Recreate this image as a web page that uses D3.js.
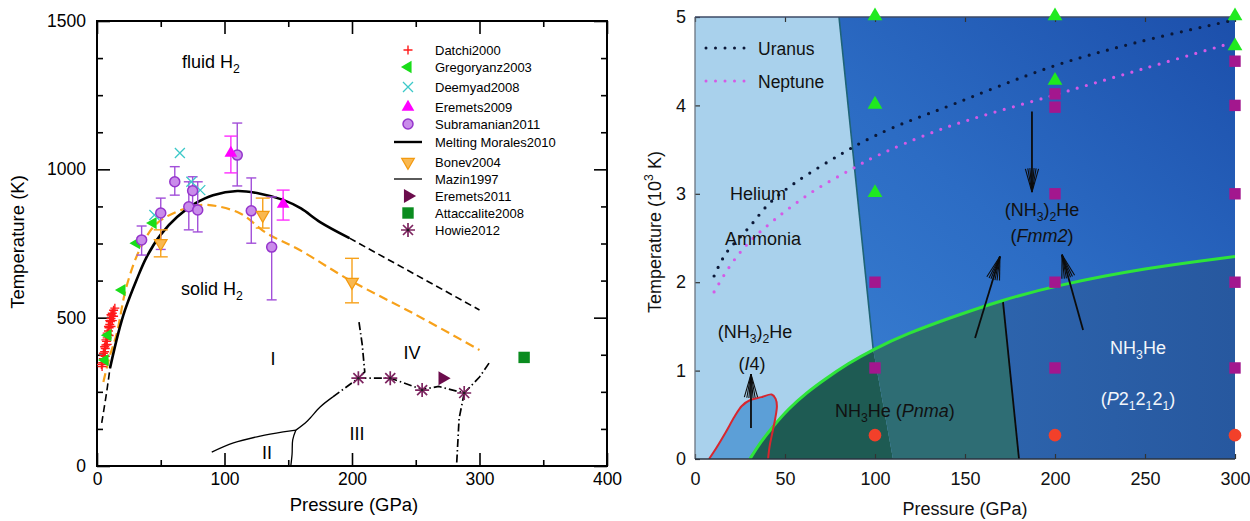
<!DOCTYPE html>
<html><head><meta charset="utf-8">
<script src="https://cdn.jsdelivr.net/npm/d3@7"></script>
<style>body{margin:0;background:#fff;} svg{display:block;font-family:"Liberation Sans",Arial,Helvetica,sans-serif;}</style>
</head><body><svg id="c" width="1250" height="521"></svg>
<script>
// ================= LEFT PANEL DATA (Pressure GPa, Temperature K) =================
const leftXTicks = [0,100,200,300,400];
const leftXMinor = [50,150,250,350];
const leftYTicks = [0,500,1000,1500];
const leftYMinor = [125,250,375,625,750,875,1125,1250,1375];

const datchi2000 = [[4,335],[4.5,348],[5,362],[5.5,372],[6,385],[6.5,396],[7,408],[7.5,420],[8,432],[8.5,443],[9,455],[9.5,466],[10,477],[10.5,487],[11,497],[11.5,506],[12,515],[13,525],[14,532],[5,380],[6,402],[7,425],[8,448],[9,470],[10,490],[11,510],[3.5,342],[6.5,370],[8,410],[9.5,440],[11,470],[12,490],[13,505]];
const gregoryanz2003 = [[6.3,357],[8.6,441],[19.6,593],[31,751],[44,819]];
const deemyad2008 = [[45,846],[65,1055],[74,958],[81,930]];
// [P, T, low, high]
const eremets2009 = [[105,1055,988,1112],[146,883,829,930]];
const subramanian2011 = [[35,762,711,809],[50,853,730,903],[61,958,913,1009],[72,874,796,958],[75,928,880,975],[79,863,789,958],[110,1048,944,1156],[121,860,751,971],[137,738,560,907]];
const bonev2004 = [[50,751,705,796],[130,846,802,903],[200,620,550,700]];
const bonevLine = [[5,283],[10,370],[15.6,448],[23,603],[34,734],[47,818],[70,869],[86,880],[112,852],[133,785],[159,728],[198,627],[250,510],[300,391]];
const moralesSolid = [[10.2,330],[16.7,448],[22,526],[31,627],[39,705],[50,780],[63,840],[77,885],[91,913],[110,927],[128,918],[146,897],[160,868],[175,822],[198,768]];
const moralesDashHigh = [[198,768],[300,526]];
const moralesDashLow = [[3.7,145],[7,233],[8.6,280],[10.2,330]];
const mazinI_II = [[90,47],[107,78],[128,101],[146,115],[156,121]];
const mazinII_III = [[156,121],[153.5,88],[153,40],[152,0]];
const mazinI_III = [[156,121],[165,152],[175,199],[185,233]];
const dashDotI_III = [[185,233],[205,296]];
const dashDotI_IV = [[205.5,485],[208,410],[210,317],[205,296]];
const dashDotIII_IV = [[205,296],[230,296],[255,258],[268,268],[288,246]];
const dashDotIII_down = [[288,246],[284,160],[282,0]];
const dashDotIV_up = [[288,246],[300,300],[307.5,347]];
const eremets2011 = [[271,296]];
const attaccalite2008 = [[335,366]];
const howie2012 = [[205,296],[230,296],[255,256],[288,246]];

const legendNames = ["Datchi2000","Gregoryanz2003","Deemyad2008","Eremets2009","Subramanian2011","Melting Morales2010","Bonev2004","Mazin1997","Eremets2011","Attaccalite2008","Howie2012"];

// ================= RIGHT PANEL DATA (Pressure GPa, Temperature 10^3 K) =================
const rightXTicks = [0,50,100,150,200,250,300];
const rightYTicks = [0,1,2,3,4,5];
const greenBoundary = [[30.5,0],[36,0.18],[43,0.36],[52,0.57],[62,0.75],[72,0.9],[85,1.08],[99,1.24],[118,1.42],[142,1.6],[171,1.8],[200,1.96],[250,2.16],[300,2.29]];
const lightRegion = [[0,0],[0,5],[80,5],[99,1.24],[110,0]];
const pnmaMid = [[110,0],[99,1.24],[80,5],[165,5],[171,1.8],[180,0]];
const p212121Region = [[180,0],[171,1.8],[165,5],[300,5],[300,0]];
const heliumAmmoniaEdge = [[80,5],[99,1.24]];
const pnmaEdge = [[171,1.80],[180,0]];
const i4Region = [[7.8,0],[12,0.13],[17,0.3],[22,0.48],[26,0.6],[31,0.67],[37,0.7],[42.6,0.73],[44.8,0.68],[45.5,0.6],[44.5,0.45],[43,0.3],[41.5,0.15],[40.6,0]];
const uranus = [[10.6,2.07],[17,2.32],[30,2.62],[41.7,2.9],[56,3.13],[82,3.46],[92.6,3.58],[109,3.74],[138,3.97],[200,4.45],[247,4.72],[296,4.95]];
const neptune = [[10.6,1.89],[20,2.2],[30,2.45],[45,2.72],[65,3.02],[88,3.29],[99,3.41],[138,3.74],[200,4.12],[250,4.42],[297,4.70]];
const greenTriangles = [[100,5],[100,4],[100,3],[200,5],[200,4.27],[300,5],[300,4.66]];
const purpleSquares = [[100,2],[100,1.03],[200,4.13],[200,3.98],[200,3],[200,2],[200,1.03],[300,4.5],[300,4],[300,3],[300,2],[300,1.03]];
const redCircles = [[100,0.27],[200,0.27],[300,0.27]];
// arrows: [fromP, fromT, toP, toT]
const arrows = [[187.2,3.93,187.2,3.02],[31.1,0.35,31.1,0.96],[155.6,1.37,169.4,2.29],[215.6,1.46,203.9,2.31]];

// ================= DRAW =================
const svg = d3.select("#c");
const FONT = '"Liberation Sans",Arial,Helvetica,sans-serif';

function rich(g, x, y, parts, o = {}) {
  const fs = o.fs || 18;
  const t = g.append("text").attr("x", x).attr("y", y).attr("font-size", fs)
    .attr("fill", o.fill || "#111").attr("text-anchor", o.anchor || "start");
  if (o.rotate) t.attr("transform", `rotate(${o.rotate},${x},${y})`);
  let shift = 0;
  parts.forEach(p => {
    const s = t.append("tspan").text(p.t);
    const target = p.sub ? fs * 0.3 : p.sup ? -fs * 0.42 : 0;
    if (target !== shift) { s.attr("dy", target - shift); shift = target; }
    if (p.sub || p.sup) s.attr("font-size", fs * 0.68);
    if (p.it) s.attr("font-style", "italic");
  });
  return t;
}

// ---------- LEFT ----------
const xL = d3.scaleLinear().domain([0,400]).range([97,607]);
const yL = d3.scaleLinear().domain([0,1500]).range([466,21]);
const gL = svg.append("g");
const lineL = d3.line().x(d => xL(d[0])).y(d => yL(d[1]));
const smoothL = d3.line().x(d => xL(d[0])).y(d => yL(d[1])).curve(d3.curveCatmullRom);

function tidy(sel, fs) {
  sel.select(".domain").remove();
  sel.selectAll(".tick line").attr("stroke", "#000").attr("stroke-width", 1.6);
  sel.selectAll("text").attr("font-size", fs).attr("fill", "#000").attr("font-family", FONT);
}
gL.append("g").attr("transform", `translate(0,${yL(0)})`)
  .call(d3.axisBottom(xL).tickValues(leftXTicks).tickSize(-13).tickPadding(7).tickFormat(d3.format("d"))).call(s => tidy(s, 17.5));
gL.append("g").attr("transform", `translate(0,${yL(0)})`)
  .call(d3.axisBottom(xL).tickValues(leftXMinor).tickSize(-6).tickFormat("")).call(s => tidy(s, 17.5));
gL.append("g").attr("transform", `translate(0,${yL(1500)})`)
  .call(d3.axisTop(xL).tickValues(leftXTicks).tickSize(-13).tickFormat("")).call(s => tidy(s, 17.5));
gL.append("g").attr("transform", `translate(0,${yL(1500)})`)
  .call(d3.axisTop(xL).tickValues(leftXMinor).tickSize(-6).tickFormat("")).call(s => tidy(s, 17.5));
gL.append("g").attr("transform", `translate(${xL(0)},0)`)
  .call(d3.axisLeft(yL).tickValues(leftYTicks).tickSize(-13).tickPadding(11).tickFormat(d3.format("d"))).call(s => tidy(s, 17.5));
gL.append("g").attr("transform", `translate(${xL(0)},0)`)
  .call(d3.axisLeft(yL).tickValues(leftYMinor).tickSize(-6).tickFormat("")).call(s => tidy(s, 17.5));
gL.append("g").attr("transform", `translate(${xL(400)},0)`)
  .call(d3.axisRight(yL).tickValues(leftYTicks).tickSize(-13).tickFormat("")).call(s => tidy(s, 17.5));
gL.append("g").attr("transform", `translate(${xL(400)},0)`)
  .call(d3.axisRight(yL).tickValues(leftYMinor).tickSize(-6).tickFormat("")).call(s => tidy(s, 17.5));
gL.append("rect").attr("x", xL(0)).attr("y", yL(1500)).attr("width", xL(400) - xL(0)).attr("height", yL(0) - yL(1500))
  .attr("fill", "none").attr("stroke", "#000").attr("stroke-width", 2);

gL.append("text").attr("x", 354).attr("y", 511).attr("text-anchor", "middle").attr("font-size", 18.5).text("Pressure (GPa)");
gL.append("text").attr("x", 24).attr("y", 242).attr("text-anchor", "middle").attr("font-size", 18.5)
  .attr("transform", "rotate(-90,24,242)").text("Temperature (K)");

// curves
gL.append("path").attr("d", smoothL(bonevLine)).attr("fill", "none").attr("stroke", "#f7a11a").attr("stroke-width", 2.2).attr("stroke-dasharray", "9,5");
gL.append("path").attr("d", smoothL(moralesSolid)).attr("fill", "none").attr("stroke", "#000").attr("stroke-width", 2.6);
gL.append("path").attr("d", lineL(moralesDashHigh)).attr("fill", "none").attr("stroke", "#000").attr("stroke-width", 1.6).attr("stroke-dasharray", "7,4");
gL.append("path").attr("d", smoothL(moralesDashLow)).attr("fill", "none").attr("stroke", "#000").attr("stroke-width", 1.6).attr("stroke-dasharray", "7,4");
[mazinI_II, mazinII_III, mazinI_III].forEach(d => gL.append("path").attr("d", smoothL(d)).attr("fill", "none").attr("stroke", "#000").attr("stroke-width", 1.3));
[dashDotI_III, dashDotI_IV, dashDotIII_IV, dashDotIII_down, dashDotIV_up].forEach(d =>
  gL.append("path").attr("d", lineL(d)).attr("fill", "none").attr("stroke", "#000").attr("stroke-width", 1.7).attr("stroke-dasharray", "8,3,1.5,3"));

// error bars
function errBars(data, color, cap) {
  data.forEach(d => {
    const x = xL(d[0]);
    gL.append("line").attr("x1", x).attr("x2", x).attr("y1", yL(d[2])).attr("y2", yL(d[3])).attr("stroke", color).attr("stroke-width", 1.4);
    [d[2], d[3]].forEach(v => gL.append("line").attr("x1", x - cap / 2).attr("x2", x + cap / 2).attr("y1", yL(v)).attr("y2", yL(v)).attr("stroke", color).attr("stroke-width", 1.4));
  });
}
errBars(subramanian2011, "#a24fd9", 10);
errBars(eremets2009, "#ff2cff", 13);
errBars(bonev2004, "#f7a11a", 14);

// marker drawers
const M = {
  datchi: (g, x, y) => g.append("path").attr("transform", `translate(${x},${y})`).attr("d", "M-4.5,0H4.5M0,-4.5V4.5").attr("stroke", "#ff1a1a").attr("stroke-width", 1.4).attr("fill", "none"),
  greg: (g, x, y) => g.append("path").attr("transform", `translate(${x},${y}) rotate(-90)`).attr("d", d3.symbol(d3.symbolTriangle, 65)()).attr("fill", "#19dd19"),
  deem: (g, x, y) => g.append("path").attr("transform", `translate(${x},${y})`).attr("d", "M-5,-5L5,5M-5,5L5,-5").attr("stroke", "#3cc9c9").attr("stroke-width", 1.3).attr("fill", "none"),
  erem09: (g, x, y) => g.append("path").attr("transform", `translate(${x},${y})`).attr("d", d3.symbol(d3.symbolTriangle, 70)()).attr("fill", "#ff00ff"),
  subr: (g, x, y) => g.append("circle").attr("cx", x).attr("cy", y).attr("r", 5).attr("fill", "#c98cea").attr("stroke", "#9535cc").attr("stroke-width", 1.5),
  bonev: (g, x, y) => g.append("path").attr("transform", `translate(${x},${y}) rotate(180)`).attr("d", d3.symbol(d3.symbolTriangle, 70)()).attr("fill", "#f9b850").attr("stroke", "#f39a10").attr("stroke-width", 1.2),
  erem11: (g, x, y) => g.append("path").attr("transform", `translate(${x},${y}) rotate(90)`).attr("d", d3.symbol(d3.symbolTriangle, 85)()).attr("fill", "#6b0c4c"),
  atta: (g, x, y) => g.append("path").attr("transform", `translate(${x},${y})`).attr("d", d3.symbol(d3.symbolSquare, 130)()).attr("fill", "#0a8c1f"),
  howie: (g, x, y) => { g.append("path").attr("transform", `translate(${x},${y})`).attr("d", "M-7,0H7M0,-7V7M-5,-5L5,5M-5,5L5,-5").attr("stroke", "#7d2560").attr("stroke-width", 1.7).attr("fill", "none");
    g.append("circle").attr("cx", x).attr("cy", y).attr("r", 1.3).attr("fill", "#222"); }
};
datchi2000.forEach(d => M.datchi(gL, xL(d[0]), yL(d[1])));
gregoryanz2003.forEach(d => M.greg(gL, xL(d[0]), yL(d[1])));
deemyad2008.forEach(d => M.deem(gL, xL(d[0]), yL(d[1])));
subramanian2011.forEach(d => M.subr(gL, xL(d[0]), yL(d[1])));
eremets2009.forEach(d => M.erem09(gL, xL(d[0]), yL(d[1])));
bonev2004.forEach(d => M.bonev(gL, xL(d[0]), yL(d[1])));
eremets2011.forEach(d => M.erem11(gL, xL(d[0]), yL(d[1])));
attaccalite2008.forEach(d => M.atta(gL, xL(d[0]), yL(d[1])));
howie2012.forEach(d => M.howie(gL, xL(d[0]), yL(d[1])));

// legend
const legY = [50,67,87,107,124,142,162,179,196,213,230];
const legKinds = ["datchi","greg","deem","erem09","subr","lineThick","bonev","lineThin","erem11","atta","howie"];
legendNames.forEach((name, i) => {
  const y = legY[i], k = legKinds[i];
  if (k === "lineThick") gL.append("line").attr("x1", 394).attr("x2", 422).attr("y1", y).attr("y2", y).attr("stroke", "#000").attr("stroke-width", 2.4);
  else if (k === "lineThin") gL.append("line").attr("x1", 394).attr("x2", 422).attr("y1", y).attr("y2", y).attr("stroke", "#000").attr("stroke-width", 1.3);
  else M[k](gL, 408, y);
  gL.append("text").attr("x", 435).attr("y", y + 4.6).attr("font-size", 13).attr("fill", "#000").text(name);
});

// region labels
rich(gL, 182, 68, [{t:"fluid H"},{t:"2",sub:true}], {fs:18, fill:"#000"});
rich(gL, 181, 295, [{t:"solid H"},{t:"2",sub:true}], {fs:18, fill:"#000"});
gL.append("text").attr("x", 273).attr("y", 365).attr("text-anchor", "middle").attr("font-size", 18).text("I");
gL.append("text").attr("x", 267).attr("y", 459).attr("text-anchor", "middle").attr("font-size", 18).text("II");
gL.append("text").attr("x", 357).attr("y", 440).attr("text-anchor", "middle").attr("font-size", 18).text("III");
gL.append("text").attr("x", 412).attr("y", 359).attr("text-anchor", "middle").attr("font-size", 18).text("IV");

// ---------- RIGHT ----------
const xR = d3.scaleLinear().domain([0,300]).range([695,1235]);
const yR = d3.scaleLinear().domain([0,5]).range([459,17]);
const gR = svg.append("g");
const lineR = d3.line().x(d => xR(d[0])).y(d => yR(d[1]));
const basisR = d3.line().x(d => xR(d[0])).y(d => yR(d[1])).curve(d3.curveBasis);
const crR = d3.line().x(d => xR(d[0])).y(d => yR(d[1])).curve(d3.curveCatmullRom);

const defs = svg.append("defs");
const gu = defs.append("linearGradient").attr("id", "gUp").attr("x1", 0).attr("y1", 1).attr("x2", 1).attr("y2", 0);
gu.append("stop").attr("offset", 0).attr("stop-color", "#3f88d8");
gu.append("stop").attr("offset", 0.55).attr("stop-color", "#2c6cc4");
gu.append("stop").attr("offset", 1).attr("stop-color", "#1c4fab");
const gd = defs.append("linearGradient").attr("id", "gDn").attr("x1", 0).attr("y1", 0).attr("x2", 1).attr("y2", 0);
gd.append("stop").attr("offset", 0).attr("stop-color", "#2d64ad");
gd.append("stop").attr("offset", 1).attr("stop-color", "#27589f");
defs.append("clipPath").attr("id", "plotClip").append("rect")
  .attr("x", xR(0)).attr("y", yR(5)).attr("width", xR(300) - xR(0)).attr("height", yR(0) - yR(5));
const belowPath = basisR(greenBoundary) + `L${xR(300)},${yR(0)}L${xR(30.5)},${yR(0)}Z`;
defs.append("clipPath").attr("id", "belowClip").append("path").attr("d", belowPath);

const gP = gR.append("g").attr("clip-path", "url(#plotClip)");
gP.append("rect").attr("x", xR(0)).attr("y", yR(5)).attr("width", xR(300) - xR(0)).attr("height", yR(0) - yR(5)).attr("fill", "url(#gUp)");
gP.append("path").attr("d", lineR(lightRegion) + "Z").attr("fill", "#a9d1ec");
gP.append("path").attr("d", crR(i4Region) + "Z").attr("fill", "#5c9fd7");
const gB = gP.append("g").attr("clip-path", "url(#belowClip)");
gB.append("path").attr("d", lineR(lightRegion) + "Z").attr("fill", "#1e5b53");
gB.append("path").attr("d", lineR(pnmaMid) + "Z").attr("fill", "#2e6d74");
gB.append("path").attr("d", lineR(p212121Region) + "Z").attr("fill", "url(#gDn)");
gP.append("path").attr("d", lineR(heliumAmmoniaEdge)).attr("stroke", "#1f6477").attr("stroke-width", 1.6).attr("fill", "none");
gP.append("path").attr("d", lineR(pnmaEdge)).attr("stroke", "#0b0b0b").attr("stroke-width", 1.8).attr("fill", "none");
gP.append("path").attr("d", basisR(greenBoundary)).attr("stroke", "#2ee43a").attr("stroke-width", 3).attr("fill", "none");
gP.append("path").attr("d", crR(i4Region)).attr("stroke", "#d8262e").attr("stroke-width", 2).attr("fill", "none");
gP.append("path").attr("d", crR(uranus)).attr("stroke", "#0b1838").attr("stroke-width", 3.2).attr("stroke-linecap", "round").attr("stroke-dasharray", "0,9.5").attr("fill", "none");
gP.append("path").attr("d", crR(neptune)).attr("stroke", "#d45ae6").attr("stroke-width", 3.2).attr("stroke-linecap", "round").attr("stroke-dasharray", "0,9.5").attr("fill", "none");

// axes right
function tidyR(sel) {
  sel.select(".domain").remove();
  sel.selectAll(".tick line").attr("stroke", "#333").attr("stroke-width", 1.2);
  sel.selectAll("text").attr("font-size", 18).attr("fill", "#111").attr("font-family", FONT);
}
gR.append("g").attr("transform", `translate(0,${yR(0)})`).call(d3.axisBottom(xR).tickValues(rightXTicks).tickSize(-5).tickPadding(13).tickFormat(d3.format("d"))).call(tidyR);
gR.append("g").attr("transform", `translate(0,${yR(5)})`).call(d3.axisTop(xR).tickValues(rightXTicks).tickSize(-5).tickFormat("")).call(tidyR);
gR.append("g").attr("transform", `translate(${xR(0)},0)`).call(d3.axisLeft(yR).tickValues(rightYTicks).tickSize(-5).tickPadding(9).tickFormat(d3.format("d"))).call(tidyR);
gR.append("line").attr("x1", xR(0)).attr("x2", xR(0)).attr("y1", yR(0)).attr("y2", yR(5)).attr("stroke", "#6a7480").attr("stroke-width", 1.3);
gR.append("line").attr("x1", xR(0)).attr("x2", xR(300)).attr("y1", yR(0)).attr("y2", yR(0)).attr("stroke", "#2a3340").attr("stroke-width", 1.6);
gR.append("line").attr("x1", xR(0)).attr("x2", xR(300)).attr("y1", yR(5)).attr("y2", yR(5)).attr("stroke", "#3c4a66").attr("stroke-width", 1.6);

gR.append("text").attr("x", 965).attr("y", 515).attr("text-anchor", "middle").attr("font-size", 18).attr("fill", "#111").text("Pressure (GPa)");
rich(gR, 661, 232, [{t:"Temperature (10"},{t:"3",sup:true},{t:" K)"}], {fs:18, anchor:"middle", rotate:-90});

// markers right
greenTriangles.forEach(d => gR.append("path").attr("transform", `translate(${xR(d[0])},${yR(d[1]) - 1})`).attr("d", d3.symbol(d3.symbolTriangle, 95)()).attr("fill", "#1fea1f"));
purpleSquares.forEach(d => gR.append("path").attr("transform", `translate(${xR(d[0])},${yR(d[1])})`).attr("d", d3.symbol(d3.symbolSquare, 130)()).attr("fill", "#a3178e"));
redCircles.forEach(d => gR.append("path").attr("transform", `translate(${xR(d[0])},${yR(d[1])})`).attr("d", d3.symbol(d3.symbolCircle, 125)()).attr("fill", "#f2402a"));

// arrows
arrows.forEach(a => {
  const x1 = xR(a[0]), y1 = yR(a[1]), x2 = xR(a[2]), y2 = yR(a[3]);
  gR.append("line").attr("x1", x1).attr("y1", y1).attr("x2", x2).attr("y2", y2).attr("stroke", "#0c0c0c").attr("stroke-width", 1.8);
  const ang = Math.atan2(y1 - y2, x1 - x2);
  [-16, -10, -5, 5, 10, 16].forEach(deg => {
    const t = ang + deg * Math.PI / 180;
    gR.append("line").attr("x1", x2).attr("y1", y2).attr("x2", x2 + 24 * Math.cos(t)).attr("y2", y2 + 24 * Math.sin(t))
      .attr("stroke", "#0c0c0c").attr("stroke-width", 1.1);
  });
});

// legend right
gR.append("line").attr("x1", 706).attr("x2", 752).attr("y1", 48).attr("y2", 48).attr("stroke", "#0b1838").attr("stroke-width", 3).attr("stroke-linecap", "round").attr("stroke-dasharray", "0,9.5");
gR.append("line").attr("x1", 706).attr("x2", 752).attr("y1", 81).attr("y2", 81).attr("stroke", "#d45ae6").attr("stroke-width", 3).attr("stroke-linecap", "round").attr("stroke-dasharray", "0,9.5");
gR.append("text").attr("x", 758).attr("y", 55).attr("font-size", 17.5).attr("fill", "#111").text("Uranus");
gR.append("text").attr("x", 758).attr("y", 88).attr("font-size", 17.5).attr("fill", "#111").text("Neptune");

// region labels right
gR.append("text").attr("x", 730).attr("y", 200).attr("font-size", 18).attr("fill", "#111").text("Helium");
gR.append("text").attr("x", 725).attr("y", 245).attr("font-size", 18).attr("fill", "#111").text("Ammonia");
rich(gR, 755, 338, [{t:"(NH"},{t:"3",sub:true},{t:")"},{t:"2",sub:true},{t:"He"}], {fs:18, anchor:"middle"});
rich(gR, 752, 370, [{t:"("},{t:"I",it:true},{t:"4)"}], {fs:18, anchor:"middle"});
rich(gR, 1042, 216, [{t:"(NH"},{t:"3",sub:true},{t:")"},{t:"2",sub:true},{t:"He"}], {fs:18, anchor:"middle"});
rich(gR, 1042, 242, [{t:"("},{t:"Fmm2",it:true},{t:")"}], {fs:18, anchor:"middle"});
rich(gR, 835, 417, [{t:"NH"},{t:"3",sub:true},{t:"He ("},{t:"Pnma",it:true},{t:")"}], {fs:18});
rich(gR, 1138, 354, [{t:"NH"},{t:"3",sub:true},{t:"He"}], {fs:18, anchor:"middle", fill:"#f2f6fb"});
rich(gR, 1138, 405, [{t:"("},{t:"P",it:true},{t:"2"},{t:"1",sub:true},{t:"2"},{t:"1",sub:true},{t:"2"},{t:"1",sub:true},{t:")"}], {fs:18, anchor:"middle", fill:"#f2f6fb"});
</script></body></html>
